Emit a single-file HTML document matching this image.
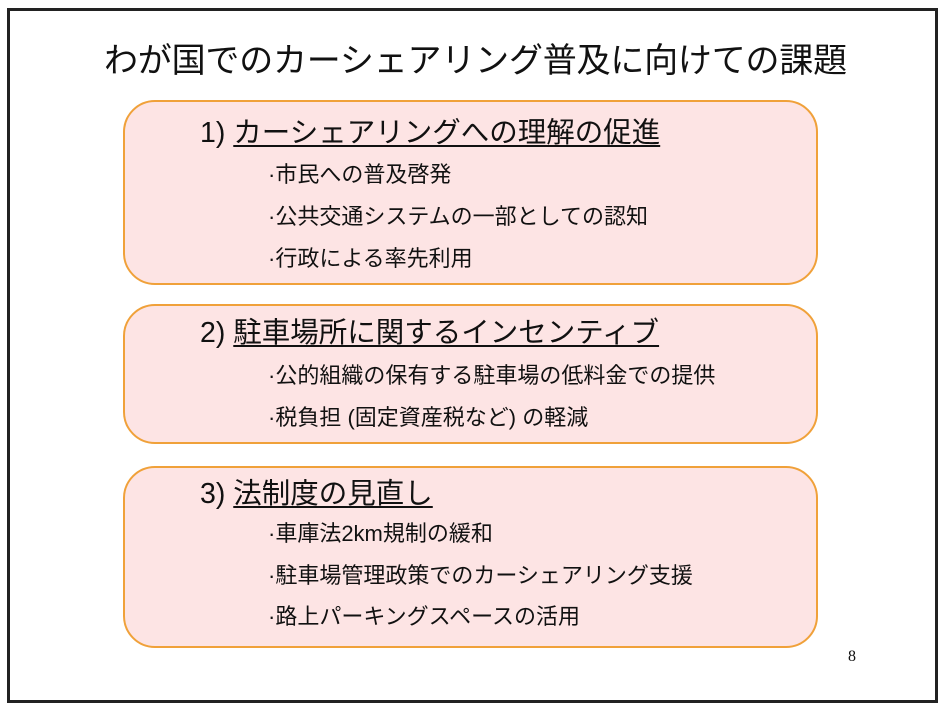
<!DOCTYPE html>
<html><head><meta charset="utf-8"><style>
body{margin:0;width:944px;height:710px;background:#fff;position:relative;overflow:hidden;font-family:"Liberation Sans","Noto Sans CJK JP",sans-serif;color:#111}
.frame{position:absolute;left:7px;top:8px;width:925px;height:689px;border:3px solid #222}
.box{position:absolute;left:123px;width:695px;background:#fde4e4;border:2.5px solid #f0a13a;border-radius:32px;box-sizing:border-box}
.t{position:absolute;white-space:nowrap;line-height:1}
.h{font-size:28.5px;left:200px}
.h u{text-decoration-thickness:2px;text-underline-offset:3px}
.i{font-size:22px;left:268px}
</style></head><body>
<div class="frame"></div>
<div class="t" style="left:104px;top:44px;font-size:34px;letter-spacing:-0.2px">わが国でのカーシェアリング普及に向けての課題</div>
<div class="box" style="top:100px;height:185px"></div>
<div class="box" style="top:304px;height:140px"></div>
<div class="box" style="top:466px;height:182px"></div>
<div class="t h" style="top:119px">1) <u>カーシェアリングへの理解の促進</u></div>
<div class="t i" style="top:164px">·市民への普及啓発</div>
<div class="t i" style="top:206px">·公共交通システムの一部としての認知</div>
<div class="t i" style="top:248px">·行政による率先利用</div>
<div class="t h" style="top:319px">2) <u>駐車場所に関するインセンティブ</u></div>
<div class="t i" style="top:365px">·公的組織の保有する駐車場の低料金での提供</div>
<div class="t i" style="top:407px">·税負担 (固定資産税など) の軽減</div>
<div class="t h" style="top:480px">3) <u>法制度の見直し</u></div>
<div class="t i" style="top:523px">·車庫法2km規制の緩和</div>
<div class="t i" style="top:565px">·駐車場管理政策でのカーシェアリング支援</div>
<div class="t i" style="top:606px">·路上パーキングスペースの活用</div>
<div class="t" style="left:848px;top:649px;font-size:16px;font-family:'Liberation Serif',serif">8</div>
</body></html>
